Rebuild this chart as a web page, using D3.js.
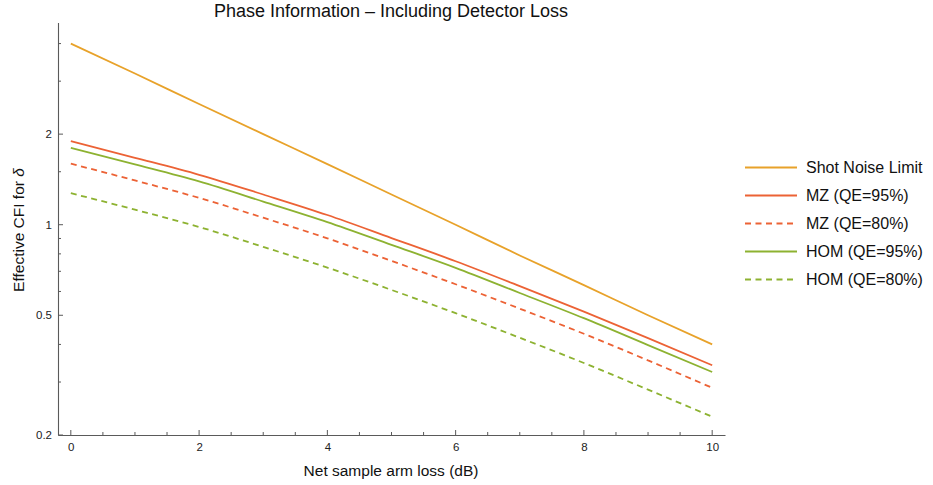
<!DOCTYPE html>
<html>
<head>
<meta charset="utf-8">
<script src="https://cdn.jsdelivr.net/npm/d3@7"></script>
<style>
  html, body { margin: 0; padding: 0; background: #fff; }
  svg text { font-family: "Liberation Sans", Arial, sans-serif; }
</style>
</head>
<body>
<svg id="chart" width="933" height="485"></svg>
<script>
// Net sample arm loss (dB)
const lossDb = [0, 1, 2, 3, 4, 5, 6, 7, 8, 9, 10];

// Effective classical Fisher information for each configuration
const shotNoise = [4.00, 3.18, 2.52, 2.00, 1.59, 1.26, 1.00, 0.79, 0.63, 0.50, 0.40];
const mz95      = [1.895, 1.669, 1.465, 1.260, 1.077, 0.903, 0.756, 0.625, 0.514, 0.420, 0.341];
const mz80      = [1.596, 1.403, 1.228, 1.055, 0.901, 0.758, 0.634, 0.526, 0.434, 0.354, 0.287];
const hom95     = [1.800, 1.587, 1.393, 1.194, 1.020, 0.857, 0.719, 0.593, 0.489, 0.398, 0.324];
const hom80     = [1.273, 1.122, 0.983, 0.844, 0.720, 0.607, 0.508, 0.421, 0.347, 0.283, 0.230];

const seriesNames = ["Shot Noise Limit", "MZ (QE=95%)", "MZ (QE=80%)", "HOM (QE=95%)", "HOM (QE=80%)"];
const seriesValues = [shotNoise, mz95, mz80, hom95, hom80];
const seriesColors = ["#E8A22A", "#EC6235", "#EC6235", "#8DB231", "#8DB231"];
const seriesDashed = [false, false, true, false, true];

const xMajorTicks = [0, 2, 4, 6, 8, 10];
const xMinorTicks = [0.5, 1, 1.5, 2.5, 3, 3.5, 4.5, 5, 5.5, 6.5, 7, 7.5, 8.5, 9, 9.5];
const yMajorTicks = [0.2, 0.5, 1, 2];
const yMinorTicks = [0.3, 0.4, 0.6, 0.7, 0.8, 0.9, 1.5, 3, 4];

const svg = d3.select("#chart");

const x = d3.scaleLinear().domain([-0.2, 10.2]).range([58, 725]);
const y = d3.scaleLog().domain([0.2, 4.7]).range([435, 22.5]);

const axisColor = "#5a5a5a";

// Frame: bottom and left edges
const xAxis = svg.append("g").attr("transform", `translate(0,${y(0.2)})`)
  .call(d3.axisBottom(x).tickValues(xMajorTicks).tickSize(0).tickPadding(8).tickFormat(d3.format("d")));
const yAxis = svg.append("g").attr("transform", `translate(${x(-0.2)},0)`)
  .call(d3.axisLeft(y).tickValues(yMajorTicks).tickSize(0).tickPadding(6).tickFormat(d => String(d)));

[xAxis, yAxis].forEach(g => {
  g.select(".domain").attr("stroke", axisColor).attr("stroke-width", 1.1);
  g.selectAll("text").attr("fill", "#222").style("font-size", "11.5px");
});

// Inward ticks
const tickG = svg.append("g").attr("stroke", axisColor).attr("stroke-width", 1);
tickG.selectAll(".xmaj").data(xMajorTicks).join("line")
  .attr("x1", d => x(d)).attr("x2", d => x(d))
  .attr("y1", y(0.2)).attr("y2", y(0.2) - 5);
tickG.selectAll(".xmin").data(xMinorTicks).join("line")
  .attr("x1", d => x(d)).attr("x2", d => x(d))
  .attr("y1", y(0.2)).attr("y2", y(0.2) - 3);
tickG.selectAll(".ymaj").data(yMajorTicks).join("line")
  .attr("x1", x(-0.2)).attr("x2", x(-0.2) + 5)
  .attr("y1", d => y(d)).attr("y2", d => y(d));
tickG.selectAll(".ymin").data(yMinorTicks).join("line")
  .attr("x1", x(-0.2)).attr("x2", x(-0.2) + 3)
  .attr("y1", d => y(d)).attr("y2", d => y(d));

// Curves
const line = d3.line()
  .x((d, i) => x(lossDb[i]))
  .y(d => y(d))
  .curve(d3.curveMonotoneX);

svg.append("g").selectAll("path").data(seriesValues).join("path")
  .attr("d", d => line(d))
  .attr("fill", "none")
  .attr("stroke", (d, i) => seriesColors[i])
  .attr("stroke-width", 1.8)
  .attr("stroke-dasharray", (d, i) => seriesDashed[i] ? "6,4.5" : null);

// Title and axis labels
svg.append("text")
  .attr("x", 391).attr("y", 16.5)
  .attr("text-anchor", "middle")
  .style("font-size", "18px").attr("fill", "#111")
  .text("Phase Information \u2013 Including Detector Loss");

svg.append("text")
  .attr("x", 391).attr("y", 476)
  .attr("text-anchor", "middle")
  .style("font-size", "15.5px").attr("fill", "#111")
  .text("Net sample arm loss (dB)");

const yLabel = svg.append("text")
  .attr("transform", "translate(24,230) rotate(-90)")
  .attr("text-anchor", "middle")
  .style("font-size", "15.5px").attr("fill", "#111");
yLabel.append("tspan").text("Effective CFI for ");
yLabel.append("tspan").style("font-style", "italic").text("\u03B4");

// Legend
const legend = svg.append("g");
const rows = legend.selectAll("g").data(seriesNames).join("g")
  .attr("transform", (d, i) => `translate(745,${167.5 + i * 28})`);
rows.append("line")
  .attr("x1", 0).attr("x2", 52).attr("y1", 0).attr("y2", 0)
  .attr("stroke", (d, i) => seriesColors[i])
  .attr("stroke-width", 1.8)
  .attr("stroke-dasharray", (d, i) => seriesDashed[i] ? "6,4.5" : null);
rows.append("text")
  .attr("x", 61).attr("y", 5.8)
  .style("font-size", "16px").attr("fill", "#111")
  .text(d => d);
</script>
</body>
</html>
